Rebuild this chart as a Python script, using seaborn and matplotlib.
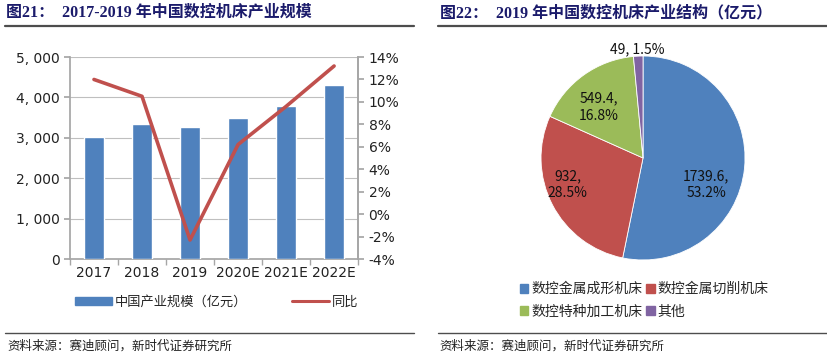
import numpy as np
import pandas as pd
import matplotlib
matplotlib.use('Agg')
import matplotlib.pyplot as plt
import seaborn as sns
from matplotlib.patches import Patch
from matplotlib.lines import Line2D
from matplotlib.ticker import FuncFormatter, FixedLocator

# data
years = ['2017', '2018', '2019', '2020E', '2021E', '2022E']
scale = [3030, 3350, 3270, 3480, 3800, 4300]          # 亿元
growth = [12.0, 10.5, -2.3, 6.2, 9.6, 13.2]           # %

segments = ['数控金属成形机床', '数控金属切削机床', '数控特种加工机床', '其他']
seg_values = [1739.6, 932, 549.4, 49]
seg_share = ['53.2%', '28.5%', '16.8%', '1.5%']

BLUE, RED, GREEN, PURPLE = '#4F81BD', '#C0504D', '#9BBB59', '#8064A2'
NAVY = '#1B1B6B'
GRID = '#BFBFBF'

sns.set_theme(style='white')
plt.rcParams['font.family'] = ['DejaVu Sans', 'Noto Sans CJK SC']
CJK = ['Noto Sans CJK SC', 'DejaVu Sans']
SERIF = ['Liberation Serif', 'Noto Sans CJK SC']

fig = plt.figure(figsize=(8.28, 3.52), dpi=100)

# ---------- left: bar + line ----------
ax = fig.add_axes([0.0845, 0.264, 0.348, 0.574])
df = pd.DataFrame({'year': years, 'scale': scale})
sns.barplot(data=df, x='year', y='scale', color=BLUE, saturation=1,
            width=0.42, ax=ax, zorder=3)
ax.set_xlim(-0.5, len(years) - 0.5)
ax.set_ylim(0, 5000)
ax.set_yticks(range(0, 5001, 1000))
ax.yaxis.set_major_formatter(FuncFormatter(lambda v, p: f'{v:,.0f}'.replace(',', ', ')))
ax.grid(axis='y', color=GRID, lw=0.8, zorder=0)
ax.set_xlabel('')
ax.set_ylabel('')
for s in ['left', 'bottom', 'right']:
    ax.spines[s].set_color('#A6A6A6')
ax.spines['top'].set_visible(False)
ax.xaxis.set_minor_locator(FixedLocator(np.arange(-0.5, len(years), 1.0)))
ax.tick_params(axis='x', which='major', length=0, labelsize=10, colors='#222222', pad=5)
ax.tick_params(axis='x', which='minor', length=4, color='#A6A6A6', direction='out', bottom=True)
ax.tick_params(axis='y', length=4, color='#A6A6A6', direction='out', left=True,
               labelsize=10, labelcolor='#222222')

ax2 = ax.twinx()
sns.lineplot(x=np.arange(len(years)), y=growth, color=RED, lw=2.6, ax=ax2, zorder=4)
ax2.set_ylim(-4, 14)
ax2.set_yticks(range(-4, 15, 2))
ax2.yaxis.set_major_formatter(FuncFormatter(lambda v, p: f'{v:.0f}%'))
for s in ['left', 'bottom', 'top']:
    ax2.spines[s].set_visible(False)
ax2.spines['right'].set_color('#A6A6A6')
ax2.tick_params(axis='y', length=4, color='#A6A6A6', direction='out', right=True,
                labelsize=10, labelcolor='#222222')
ax2.grid(False)

handles = [Patch(color=BLUE), Line2D([0], [0], color=RED, lw=2.2)]
fig.legend(handles, ['中国产业规模（亿元）', '同比'], loc='center', bbox_to_anchor=(0.262, 0.142),
           ncol=2, frameon=False, prop={'family': CJK, 'size': 9.5}, handlelength=2.8,
           handleheight=0.6, columnspacing=3.4, handletextpad=0.2)

# ---------- right: pie ----------
axp = fig.add_axes([0.6534, 0.2614, 0.2464, 0.5795])
wedges, _ = axp.pie(seg_values, colors=[BLUE, RED, GREEN, PURPLE], startangle=90,
                    counterclock=False, wedgeprops={'edgecolor': 'white', 'linewidth': 0.6})
axp.set_xlim(-1, 1)
axp.set_ylim(-1, 1)
axp.set_aspect('equal')
label_pos = [(0.62, -0.26), (-0.74, -0.26), (-0.43, 0.5), (-0.06, 1.07)]
for v, sh, (lx, ly) in zip(seg_values, seg_share, label_pos):
    txt = f'{v:g}, {sh}' if v < 100 else f'{v:g},\n{sh}'
    axp.text(lx, ly, txt, ha='center', va='center', fontsize=10, color='#111111',
             family=CJK, linespacing=1.3, clip_on=False)

# legend fills column-wise, so order handles to read row by row
order = [0, 2, 1, 3]
seg_colors = [BLUE, RED, GREEN, PURPLE]
fig.legend([Patch(color=seg_colors[i]) for i in order], [segments[i] for i in order],
           loc='center', bbox_to_anchor=(0.778, 0.147), ncol=2,
           frameon=False, prop={'family': CJK, 'size': 10}, handlelength=0.6,
           handleheight=0.6, handletextpad=0.2, columnspacing=0.3, labelspacing=0.6)

# ---------- titles, rules, sources ----------
fig.text(0.007, 0.963, '图21：  2017-2019 年中国数控机床产业规模', fontsize=11.5,
         fontweight='bold', color=NAVY, family=SERIF, va='center')
fig.text(0.531, 0.963, '图22：  2019 年中国数控机床产业结构（亿元）', fontsize=11.5,
         fontweight='bold', color=NAVY, family=SERIF, va='center')
for x0, x1 in [(0.006, 0.5), (0.529, 1.0)]:
    fig.add_artist(Line2D([x0, x1], [0.926, 0.926], color='#4D4D4D', lw=1.6))
    fig.add_artist(Line2D([x0, x1], [0.054, 0.054], color='#4D4D4D', lw=1.0))
fig.text(0.009, 0.018, '资料来源：赛迪顾问，新时代证券研究所', fontsize=9, family=CJK,
         color='#222222', va='center')
fig.text(0.531, 0.018, '资料来源：赛迪顾问，新时代证券研究所', fontsize=9, family=CJK,
         color='#222222', va='center')

fig.savefig('out.png', dpi=100)
